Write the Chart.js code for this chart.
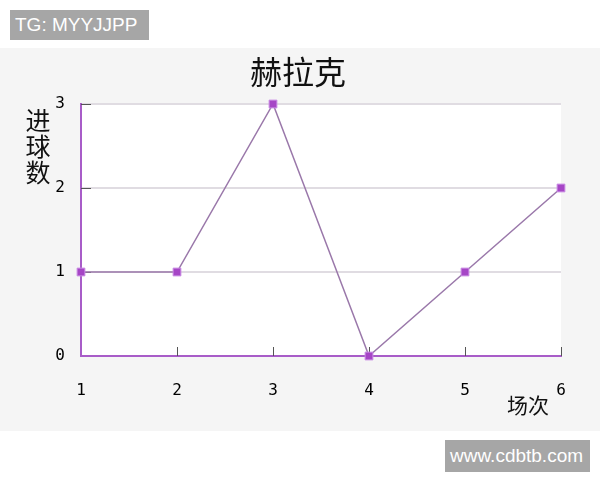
<!DOCTYPE html>
<html>
<head>
    <meta charset="utf-8">
    <title>赫拉克</title>
    <script src="https://cdn.jsdelivr.net/npm/chart.js"></script>
    <style>
        body {
            margin: 0;
            background: #fff;
        }
        #wrap {
            position: relative;
            width: 600px;
            height: 480px;
        }
        .tag {
            position: absolute;
            background: #a6a6a6;
            color: #fff;
            font-family: 'Liberation Sans', Arial, sans-serif;
            font-size: 19px;
            line-height: 30px;
            padding: 0 5px;
            box-sizing: border-box;
            white-space: nowrap;
        }
    </style>
</head>
<body>
    <div id="wrap">
        <canvas id="goalChart" width="600" height="480"></canvas>
        <div class="tag" style="left:10px; top:10px; width:139px; height:30px;">TG: MYYJJPP</div>
        <div class="tag" style="left:445px; top:440px; width:145px; height:32px; line-height:32px;">www.cdbtb.com</div>
    </div>

    <script>
        // 数据
        const matches = ['1', '2', '3', '4', '5', '6'];
        const goals = [1, 1, 3, 0, 1, 2];
        const yTicks = [0, 1, 2, 3];
        const chartTitle = '赫拉克';
        const yTitle = ['进', '球', '数'];
        const xTitle = '场次';

        const purple = '#a85cc8';

        // 背景、标题和向内的刻度
        const decorate = {
            id: 'decorate',
            beforeDraw(chart) {
                const { ctx, chartArea: a } = chart;
                ctx.save();
                ctx.fillStyle = '#ffffff';
                ctx.fillRect(0, 0, chart.width, chart.height);
                ctx.fillStyle = '#f5f5f5';
                ctx.fillRect(0, 48, chart.width, 383);
                ctx.fillStyle = '#ffffff';
                ctx.fillRect(a.left, a.top, a.right - a.left, a.bottom - a.top);
                ctx.restore();
            },
            beforeDatasetsDraw(chart) {
                const { ctx, chartArea: a, scales } = chart;
                ctx.save();
                ctx.strokeStyle = '#555';
                ctx.lineWidth = 1;
                ctx.beginPath();
                matches.forEach((m, i) => {
                    if (i === 0) return;
                    const x = Math.round(scales.x.getPixelForValue(i)) + 0.5;
                    ctx.moveTo(x, a.bottom);
                    ctx.lineTo(x, a.bottom - 9);
                });
                yTicks.forEach(v => {
                    if (v === 0) return;
                    const y = Math.round(scales.y.getPixelForValue(v)) + 0.5;
                    ctx.moveTo(a.left, y);
                    ctx.lineTo(a.left + 10, y);
                });
                ctx.stroke();

                ctx.fillStyle = '#111';
                ctx.textAlign = 'center';
                ctx.textBaseline = 'middle';
                ctx.font = '32px "Noto Sans CJK SC"';
                ctx.fillText(chartTitle, 298, 72);
                ctx.font = '25px "Noto Sans CJK SC"';
                yTitle.forEach((c, i) => ctx.fillText(c, 38, 120 + i * 26));
                ctx.font = '21px "Noto Sans CJK SC"';
                ctx.fillText(xTitle, 528, 405);
                ctx.restore();
            }
        };

        const chart = new Chart(document.getElementById('goalChart'), {
            type: 'line',
            plugins: [decorate],
            data: {
                labels: matches,
                datasets: [{
                    data: goals,
                    borderColor: '#9a78aa',
                    borderWidth: 1.5,
                    tension: 0,
                    clip: false,
                    pointStyle: 'rect',
                    pointRadius: 5.5,
                    pointBackgroundColor: '#a646c6',
                    pointBorderColor: '#c98ae4',
                    pointBorderWidth: 1
                }]
            },
            options: {
                responsive: false,
                animation: false,
                devicePixelRatio: 1,
                layout: {
                    padding: { left: 0, top: 104, right: 39, bottom: 84 }
                },
                plugins: {
                    legend: { display: false },
                    title: { display: false },
                    tooltip: { enabled: false }
                },
                scales: {
                    x: {
                        offset: false,
                        afterFit(scale) { scale.height = 40; },
                        grid: { display: false, drawTicks: false },
                        border: { color: purple, width: 2 },
                        ticks: {
                            color: '#000',
                            padding: 25,
                            maxRotation: 0,
                            font: { family: 'DejaVu Sans Mono', size: 16 }
                        }
                    },
                    y: {
                        min: 0,
                        max: 3,
                        afterFit(scale) { scale.width = 81; },
                        afterBuildTicks(scale) {
                            scale.ticks = yTicks.map(v => ({ value: v }));
                        },
                        grid: {
                            drawTicks: false,
                            lineWidth: 2,
                            color: ctx => ctx.tick && ctx.tick.value === 0 ? 'rgba(0,0,0,0)' : '#e0dce2'
                        },
                        border: { color: purple, width: 2 },
                        ticks: {
                            color: '#000',
                            padding: 16,
                            font: { family: 'DejaVu Sans Mono', size: 16 }
                        }
                    }
                }
            }
        });
    </script>
</body>
</html>
